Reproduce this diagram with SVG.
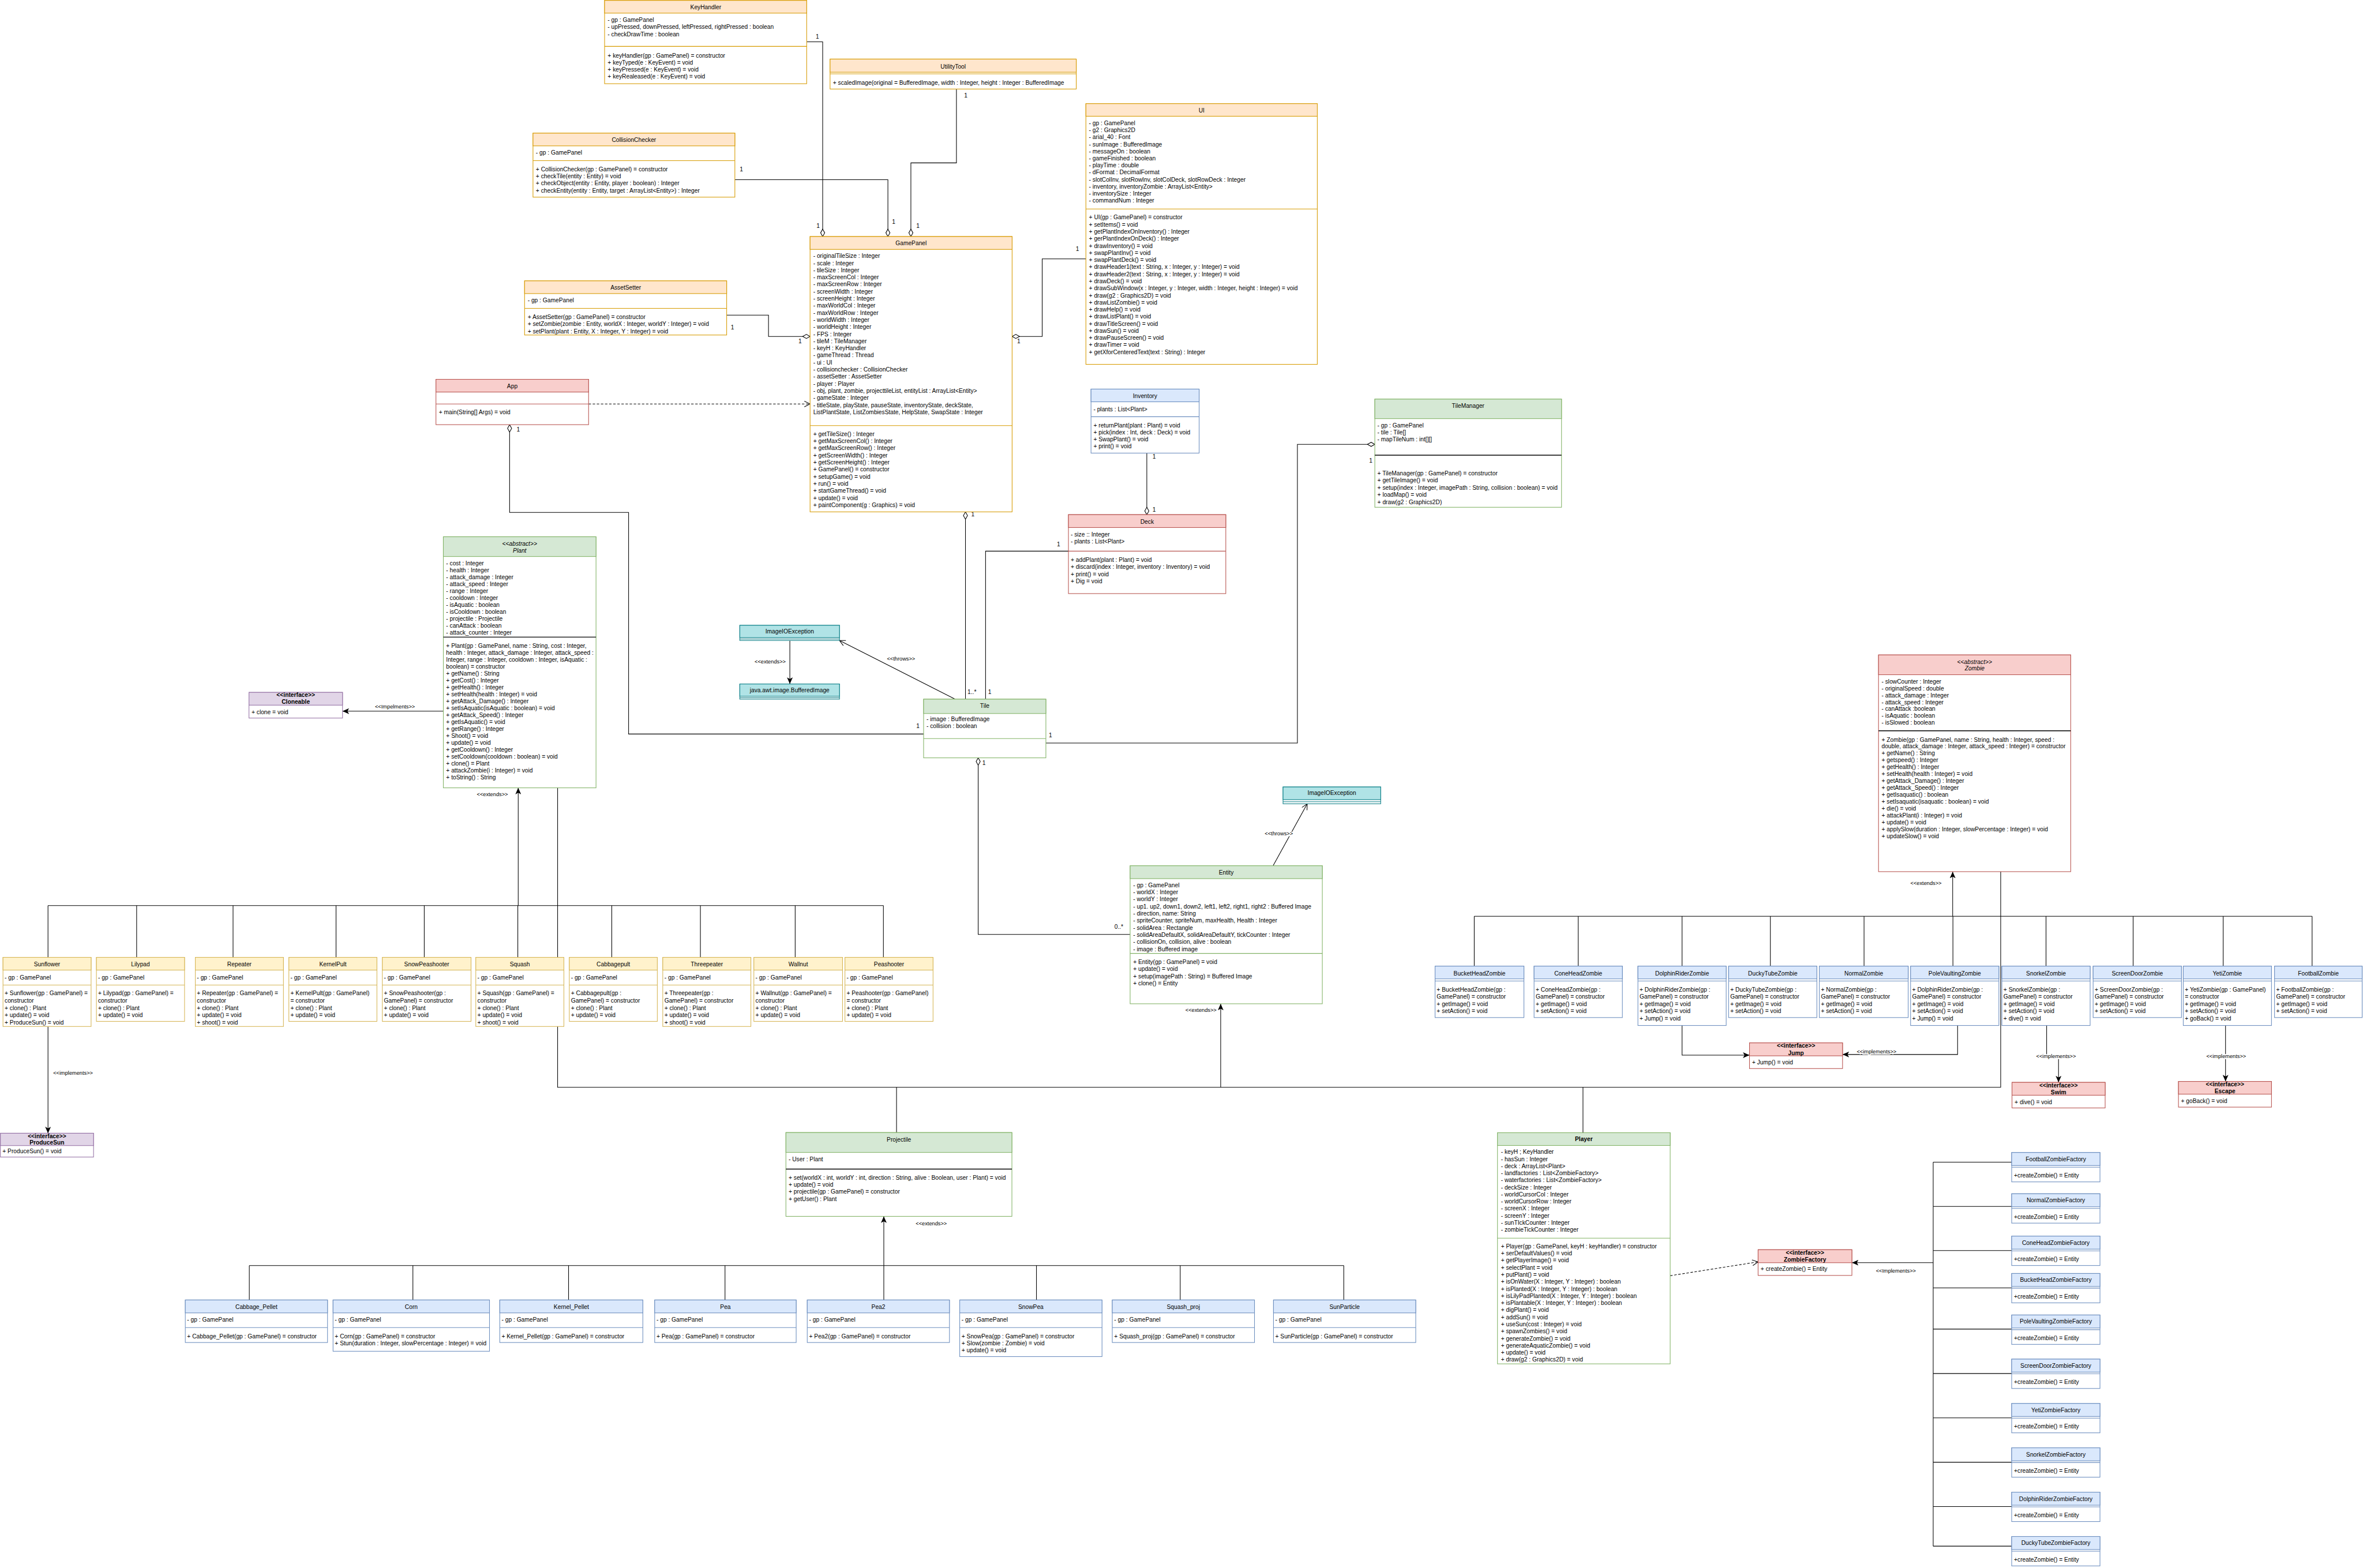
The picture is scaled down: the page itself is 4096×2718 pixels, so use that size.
<svg xmlns="http://www.w3.org/2000/svg" width="4096" height="2718" viewBox="0 0 4096 2718">
<defs>
<style>
text{font-family:"Liberation Sans",Arial,Helvetica,sans-serif;font-size:14.4px;fill:#000}
.c{text-anchor:middle}
.b{font-weight:bold}
.i{font-style:italic}
.lb{font-size:13px;paint-order:stroke;stroke:#fff;stroke-width:5px}
.ln path{fill:none;stroke:#000;stroke-width:1.5}
.ln path.dash{stroke-dasharray:6 4}
.bd{fill:#fff;stroke-width:1.5}
.hd{stroke-width:1.5}
.sp{stroke-width:1.5}
.or .bd,.or .hd,.or .sp{stroke:#d79b00}.or .hd{fill:#ffe6cc}
.ye .bd,.ye .hd,.ye .sp{stroke:#d6b656}.ye .hd{fill:#fff2cc}
.re .bd,.re .hd,.re .sp{stroke:#b85450}.re .hd{fill:#f8cecc}
.bl .bd,.bl .hd,.bl .sp{stroke:#6c8ebf}.bl .hd{fill:#dae8fc}
.gr .bd,.gr .hd,.gr .sp{stroke:#82b366}.gr .hd{fill:#d5e8d4}
.pu .bd,.pu .hd,.pu .sp{stroke:#9673a6}.pu .hd{fill:#e1d5e7}
.te .bd,.te .hd,.te .sp{stroke:#0e8088}.te .hd{fill:#b0e3e6}
g line.sp.k{stroke:#000;stroke-width:2}
</style>
<marker id="tri" markerUnits="userSpaceOnUse" markerWidth="18" markerHeight="14" refX="16" refY="7" orient="auto"><path d="M0,0 L16,7 L0,14 L4,7 z" fill="#000" stroke="none"/></marker>
<marker id="open" markerUnits="userSpaceOnUse" markerWidth="18" markerHeight="16" refX="15" refY="8" orient="auto"><path d="M1,1 L15,8 L1,15" fill="none" stroke="#000" stroke-width="1.5"/></marker>
<marker id="dia" markerUnits="userSpaceOnUse" markerWidth="22" markerHeight="14" refX="20" refY="7" orient="auto"><path d="M2,7 L11,2 L20,7 L11,12 z" fill="#fff" stroke="#000" stroke-width="1.5"/></marker>
</defs>
<rect width="4096" height="2718" fill="#fff"/>
<g transform="scale(0.71123)">

<g id="connectors" class="ln">
<path d="M1966,102 H2005 V576.5" marker-end="url(#dia)"/>
<path d="M1791,438 H2164 V576.5" marker-end="url(#dia)"/>
<path d="M2331,217 V397 H2220 V576.5" marker-end="url(#dia)"/>
<path d="M1771,768 H1873 V820 H1974.3" marker-end="url(#dia)"/>
<path d="M2646.5,631 H2540 V820 H2466.7" marker-end="url(#dia)"/>
<path class="dash" d="M1434.4,984.6 H1974.3" marker-end="url(#open)"/>
<path d="M2251,1789 H1532 V1249 H1242 V1035" marker-end="url(#dia)"/>
<path d="M2353,1704 V1247.5" marker-end="url(#dia)"/>
<path d="M2402,1704 V1343.3 H2604"/>
<path d="M2795,1104.3 V1254.3" marker-end="url(#dia)"/>
<path d="M2549,1811 H3162 V1083 H3350.7" marker-end="url(#dia)"/>
<path d="M2328,1704 L2046,1561" marker-end="url(#open)"/>
<path d="M1925,1561 V1667" marker-end="url(#tri)"/>
<path d="M3102.7,2110 L3186,1959" marker-end="url(#open)"/>
<path d="M2754.3,2277.5 H2384 V1847" marker-end="url(#dia)"/>
<path d="M1080.5,1733.2 H834.7" marker-end="url(#tri)"/>
<path d="M117,2207 H2153"/>
<path d="M117,2333.3 V2207 M333,2333.3 V2207 M568,2333.3 V2207 M819,2333.3 V2207 M1034,2333.3 V2207 M1262,2333.3 V2207 M1491,2333.3 V2207 M1707,2333.3 V2207 M1938,2333.3 V2207 M2153,2333.3 V2207"/>
<path d="M1263,2207 V1920" marker-end="url(#tri)"/>
<path d="M117,2501.7 V2762" marker-end="url(#tri)"/>
<path d="M1359,1920 V2650 H4876 V2124.4"/>
<path d="M2185,2650 V2760.3 M3858,2650 V2760.7"/>
<path d="M2975,2650 V2446.4" marker-end="url(#tri)"/>
<path d="M3593,2233 H5635"/>
<path d="M3593,2354.7 V2233 M3846.4,2354.7 V2233 M4099.5,2354.7 V2233 M4314.7,2354.7 V2233 M4543,2354.7 V2233 M4759.6,2354.7 V2233 M4986.5,2354.7 V2233 M5198.8,2354.7 V2233 M5418.3,2354.7 V2233 M5635,2354.7 V2233"/>
<path d="M4759,2233 V2124.4" marker-end="url(#tri)"/>
<path d="M4099.5,2499.3 V2571.7 H4263.8" marker-end="url(#tri)"/>
<path d="M4771,2499.3 V2570 H4490.6" marker-end="url(#tri)"/>
<path d="M4988,2499.3 V2574 H5017 V2638" marker-end="url(#tri)"/>
<path d="M5424,2499.3 V2635.7" marker-end="url(#tri)"/>
<path d="M607.6,3084.4 H3275"/>
<path d="M607.6,3168.3 V3084.4 M1006.3,3168.3 V3084.4 M1385.7,3168.3 V3084.4 M1767,3168.3 V3084.4 M2154,3168.3 V3084.4 M2526,3168.3 V3084.4 M2876.4,3168.3 V3084.4 M3275,3168.3 V3084.4"/>
<path d="M2154,3084.4 V2964.5" marker-end="url(#tri)"/>
<path class="dash" d="M4070.5,3109.2 L4284.8,3075.4" marker-end="url(#open)"/>
<path d="M4711.5,2832.3 V3768.3"/>
<path d="M4711.5,2832.3 H4902.8 M4711.5,2940.4 H4902.8 M4711.5,3047.9 H4902.8 M4711.5,3138.8 H4902.8 M4711.5,3239.3 H4902.8 M4711.5,3347.5 H4902.8 M4711.5,3455.6 H4902.8 M4711.5,3563.7 H4902.8 M4711.5,3671.9 H4902.8 M4711.5,3768.3 H4902.8"/>
<path d="M4711.5,3077.5 H4513.4" marker-end="url(#tri)"/>
</g>

<g id="connector-labels">
<text class="lb c" x="962.6" y="1727">&lt;&lt;Impelments&gt;&gt;</text>
<text class="lb c" x="1200" y="1940">&lt;&lt;extends&gt;&gt;</text>
<text class="lb c" x="178" y="2620">&lt;&lt;implements&gt;&gt;</text>
<text class="lb c" x="2927" y="2466">&lt;&lt;extends&gt;&gt;</text>
<text class="lb c" x="2196" y="1610">&lt;&lt;throws&gt;&gt;</text>
<text class="lb c" x="1877" y="1617">&lt;&lt;extends&gt;&gt;</text>
<text class="lb c" x="3116.7" y="2036">&lt;&lt;throws&gt;&gt;</text>
<text class="lb c" x="4694" y="2157">&lt;&lt;extends&gt;&gt;</text>
<text class="lb c" x="4573.5" y="2567">&lt;&lt;implements&gt;&gt;</text>
<text class="lb c" x="5011" y="2579">&lt;&lt;implements&gt;&gt;</text>
<text class="lb c" x="5425.6" y="2579">&lt;&lt;implements&gt;&gt;</text>
<text class="lb c" x="2269.7" y="2987">&lt;&lt;extends&gt;&gt;</text>
<text class="lb c" x="4620.6" y="3101">&lt;&lt;Implements&gt;&gt;</text>
<text x="1988" y="94">1</text>
<text x="1990" y="556">1</text>
<text x="1803" y="418">1</text>
<text x="2174" y="546">1</text>
<text x="2350" y="237">1</text>
<text x="2233" y="556">1</text>
<text x="1781" y="803">1</text>
<text x="1946" y="836">1</text>
<text x="2479" y="836">1</text>
<text x="2622" y="612">1</text>
<text x="1259" y="1052">1</text>
<text x="2233" y="1774">1</text>
<text x="2367" y="1258">1</text>
<text x="2358" y="1692">1..*</text>
<text x="2408" y="1692">1</text>
<text x="2576" y="1331">1</text>
<text x="2809" y="1118">1</text>
<text x="2809" y="1247">1</text>
<text x="2556" y="1797">1</text>
<text x="3337" y="1128">1</text>
<text x="2716" y="2264">0..*</text>
<text x="2394" y="1864">1</text>
</g>

<g id="KeyHandler" class="or">
<rect class="bd" x="1473.5" y="1" width="492.5" height="203"/>
<rect class="hd" x="1473.5" y="1" width="492.5" height="31"/>
<line class="sp" x1="1473.5" y1="113" x2="1966" y2="113"/>
<text class="c" x="1720" y="22">KeyHandler</text>
<text x="1481" y="54">- gp : GamePanel</text>
<text x="1481" y="71">- upPressed, downPressed, leftPressed, rightPressed : boolean</text>
<text x="1481" y="88">- checkDrawTime : boolean</text>
<text x="1481" y="140">+ keyHandler(gp : GamePanel) = constructor</text>
<text x="1481" y="157">+ keyTyped(e : KeyEvent) = void</text>
<text x="1481" y="174">+ keyPressed(e : KeyEvent) = void</text>
<text x="1481" y="191">+ keyRealeased(e : KeyEvent) = void</text>
</g>

<g id="UtilityTool" class="or">
<rect class="bd" x="2023" y="144" width="600" height="73"/>
<rect class="hd" x="2023" y="144" width="600" height="32"/>
<line class="sp" x1="2023" y1="180" x2="2623" y2="180"/>
<text class="c" x="2323" y="167">UtilityTool</text>
<text x="2030" y="207">+ scaledImage(original = BufferedImage, width : Integer, height : Integer : BufferedImage</text>
</g>

<g id="CollisionChecker" class="or">
<rect class="bd" x="1299" y="324.5" width="492" height="156"/>
<rect class="hd" x="1299" y="324.5" width="492" height="31"/>
<line class="sp" x1="1299" y1="391.5" x2="1791" y2="391.5"/>
<text class="c" x="1545" y="346">CollisionChecker</text>
<text x="1306" y="377">- gp : GamePanel</text>
<text x="1306" y="418">+ CollisionChecker(gp : GamePanel) = constructor</text>
<text x="1306" y="434">+ checkTile(entity : Entity) = void</text>
<text x="1306" y="452">+ checkObject(entity : Entity, player : boolean) : Integer</text>
<text x="1306" y="469">+ checkEntity(entity : Entity, target : ArrayList&lt;Entity&gt;) : Integer</text>
</g>

<g id="AssetSetter" class="or">
<rect class="bd" x="1278.5" y="684.5" width="492.5" height="132"/>
<rect class="hd" x="1278.5" y="684.5" width="492.5" height="31"/>
<line class="sp" x1="1278.5" y1="751.5" x2="1771" y2="751.5"/>
<text class="c" x="1525" y="706">AssetSetter</text>
<text x="1286" y="737">- gp : GamePanel</text>
<text x="1286" y="778">+ AssetSetter(gp : GamePanel) = constructor</text>
<text x="1286" y="794">+ setZombie(zombie : Entity, worldX : Integer, worldY : Integer) = void</text>
<text x="1286" y="812">+ setPlant(plant : Entity, X : Integer, Y : Integer) = void</text>
</g>

<g id="App" class="re">
<rect class="bd" x="1062.5" y="924.5" width="372" height="110.5"/>
<rect class="hd" x="1062.5" y="924.5" width="372" height="31"/>
<line class="sp" x1="1062.5" y1="984.6" x2="1434.5" y2="984.6"/>
<text class="c" x="1248.5" y="946.5">App</text>
<text x="1069.5" y="1010">+ main(String[] Args) = void</text>
</g>

<g id="GamePanel" class="or">
<rect class="bd" x="1974.3" y="576.5" width="492.4" height="671"/>
<rect class="hd" x="1974.3" y="576.5" width="492.4" height="31.3"/>
<line class="sp" x1="1974.3" y1="1037.2" x2="2466.7" y2="1037.2"/>
<text class="c" x="2220.5" y="598">GamePanel</text>
<text x="1982" y="628.8">- originalTileSize : Integer</text>
<text x="1982" y="646.1">- scale : Integer</text>
<text x="1982" y="663.4">- tileSize : Integer</text>
<text x="1982" y="680.7">- maxScreenCol : Integer</text>
<text x="1982" y="698">- maxScreenRow : Integer</text>
<text x="1982" y="715.3">- screenWidth : Integer</text>
<text x="1982" y="732.6">- screenHeight : Integer</text>
<text x="1982" y="749.9">- maxWorldCol : Integer</text>
<text x="1982" y="767.2">- maxWorldRow : Integer</text>
<text x="1982" y="784.5">- worldWidth : Integer</text>
<text x="1982" y="801.8">- worldHeight : Integer</text>
<text x="1982" y="819.1">- FPS : Integer</text>
<text x="1982" y="836.4">- tileM : TileManager</text>
<text x="1982" y="853.7">- keyH : KeyHandler</text>
<text x="1982" y="871">- gameThread : Thread</text>
<text x="1982" y="888.3">- ui : UI</text>
<text x="1982" y="905.6">- collisionchecker : CollisionChecker</text>
<text x="1982" y="922.9">- assetSetter : AssetSetter</text>
<text x="1982" y="940.2">- player : Player</text>
<text x="1982" y="957.5">- obj, plant, zombie, projecttileList, entityList : ArrayList&lt;Entity&gt;</text>
<text x="1982" y="974.8">- gameState : Integer</text>
<text x="1982" y="992.1">- titleState, playState, pauseState, inventoryState, deckState,</text>
<text x="1982" y="1009.4">ListPlantState, ListZombiesState, HelpState, SwapState : Integer</text>
<text x="1982" y="1062.8">+ getTileSize() : Integer</text>
<text x="1982" y="1080.1">+ getMaxScreenCol() : Integer</text>
<text x="1982" y="1097.4">+ getMaxScreenRow() : Integer</text>
<text x="1982" y="1114.7">+ getScreenWidth() : Integer</text>
<text x="1982" y="1132">+ getScreenHeight() : Integer</text>
<text x="1982" y="1149.3">+ GamePanel() = constructor</text>
<text x="1982" y="1166.6">+ setupGame() = void</text>
<text x="1982" y="1183.9">+ run() = void</text>
<text x="1982" y="1201.2">+ startGameThread() = void</text>
<text x="1982" y="1218.5">+ update() = void</text>
<text x="1982" y="1235.8">+ paintComponent(g : Graphics) = void</text>
</g>

<g id="UI" class="or">
<rect class="bd" x="2646.5" y="252.6" width="564" height="635.4"/>
<rect class="hd" x="2646.5" y="252.6" width="564" height="30.7"/>
<line class="sp" x1="2646.5" y1="509.4" x2="3210.5" y2="509.4"/>
<text class="c" x="2928.5" y="274">UI</text>
<text x="2654" y="305.2">- gp : GamePanel</text>
<text x="2654" y="322.3">- g2 : Graphics2D</text>
<text x="2654" y="339.5">- arial_40 : Font</text>
<text x="2654" y="356.6">- sunImage : BufferedImage</text>
<text x="2654" y="373.8">- messageOn : boolean</text>
<text x="2654" y="390.9">- gameFinished : boolean</text>
<text x="2654" y="408">- playTime : double</text>
<text x="2654" y="425.2">- dFormat : DecimalFormat</text>
<text x="2654" y="442.3">- slotColInv, slotRowInv, slotColDeck, slotRowDeck : Integer</text>
<text x="2654" y="459.5">- inventory, inventoryZombie : ArrayList&lt;Entity&gt;</text>
<text x="2654" y="476.6">- inventorySize : Integer</text>
<text x="2654" y="493.7">- commandNum : Integer</text>
<text x="2654" y="535">+ UI(gp : GamePanel) = constructor</text>
<text x="2654" y="552.3">+ setItems() = void</text>
<text x="2654" y="569.5">+ getPlantIndexOnInventory() : Integer</text>
<text x="2654" y="586.8">+ gerPlantIndexOnDeck() : Integer</text>
<text x="2654" y="604">+ drawInventory() = void</text>
<text x="2654" y="621.3">+ swapPlantInv() = void</text>
<text x="2654" y="638.6">+ swapPlantDeck() = void</text>
<text x="2654" y="655.8">+ drawHeader1(text : String, x : Integer, y : Integer) = void</text>
<text x="2654" y="673.1">+ drawHeader2(text : String, x : Integer, y : Integer) = void</text>
<text x="2654" y="690.3">+ drawDeck() = void</text>
<text x="2654" y="707.6">+ drawSubWindow(x : Integer, y : Integer, width : Integer, height : Integer) = void</text>
<text x="2654" y="724.9">+ draw(g2 : Graphics2D) = void</text>
<text x="2654" y="742.1">+ drawListZombie() = void</text>
<text x="2654" y="759.4">+ drawHelp() = void</text>
<text x="2654" y="776.6">+ drawListPlant() = void</text>
<text x="2654" y="793.9">+ drawTitleScreen() = void</text>
<text x="2654" y="811.2">+ drawSun() = void</text>
<text x="2654" y="828.4">+ drawPauseScreen() = void</text>
<text x="2654" y="845.7">+ drawTimer = void</text>
<text x="2654" y="862.9">+ getXforCenteredText(text : String) : Integer</text>
</g>

<g id="Inventory" class="bl">
<rect class="bd" x="2659" y="948.3" width="263.5" height="156"/>
<rect class="hd" x="2659" y="948.3" width="263.5" height="31"/>
<line class="sp" x1="2659" y1="1015.7" x2="2922.5" y2="1015.7"/>
<text class="c" x="2790.7" y="970">Inventory</text>
<text x="2665" y="1002">- plants : List&lt;Plant&gt;</text>
<text x="2665" y="1042">+ returnPlant(plant : Plant) = void</text>
<text x="2665" y="1059">+ pick(index : Int, deck : Deck)  = void</text>
<text x="2665" y="1076">+ SwapPlant() = void</text>
<text x="2665" y="1093">+ print() = void</text>
</g>

<g id="Deck" class="re">
<rect class="bd" x="2604" y="1254.3" width="383.5" height="192.4"/>
<rect class="hd" x="2604" y="1254.3" width="383.5" height="31.4"/>
<line class="sp" x1="2604" y1="1343.3" x2="2987.5" y2="1343.3"/>
<text class="c" x="2795.7" y="1276">Deck</text>
<text x="2609.5" y="1307">- size :: Integer</text>
<text x="2609.5" y="1324">- plants : List&lt;Plant&gt;</text>
<text x="2609.5" y="1369">+ addPlant(plant : Plant) = void</text>
<text x="2609.5" y="1386">+ discard(index : Integer, inventory : Inventory) = void</text>
<text x="2609.5" y="1404">+ print() = void</text>
<text x="2609.5" y="1421">+ Dig = void</text>
</g>

<g id="TileManager" class="gr">
<rect class="bd" x="3350.7" y="972.7" width="455" height="263.6"/>
<rect class="hd" x="3350.7" y="972.7" width="455" height="47.6"/>
<line class="sp k" x1="3350.7" y1="1109.3" x2="3805.7" y2="1109.3"/>
<text class="c" x="3578" y="994">TileManager</text>
<text x="3357" y="1042">- gp : GamePanel</text>
<text x="3357" y="1059">- tile : Tile[]</text>
<text x="3357" y="1076">- mapTileNum : int[][]</text>
<text x="3357" y="1159">+ TileManager(gp : GamePanel) = constructor</text>
<text x="3357" y="1176">+ getTileImage() = void</text>
<text x="3357" y="1194">+ setup(index : Integer, imagePath : String, collision : boolean) = void</text>
<text x="3357" y="1211">+ loadMap() = void</text>
<text x="3357" y="1229">+ draw(g2 : Graphics2D)</text>
</g>

<g id="Plant" class="gr">
<rect class="bd" x="1080.5" y="1308.2" width="372.1" height="611.9"/>
<rect class="hd" x="1080.5" y="1308.2" width="372.1" height="48.1"/>
<line class="sp k" x1="1080.5" y1="1552.8" x2="1452.6" y2="1552.8"/>
<text class="c i" x="1266.5" y="1330">&lt;&lt;abstract&gt;&gt;</text>
<text class="c i" x="1266.5" y="1347">Plant</text>
<text x="1087.3" y="1377.9">- cost : Integer</text>
<text x="1087.3" y="1394.7">- health : Integer</text>
<text x="1087.3" y="1411.6">- attack_damage : Integer</text>
<text x="1087.3" y="1428.4">- attack_speed : Integer</text>
<text x="1087.3" y="1445.2">- range : Integer</text>
<text x="1087.3" y="1462.1">- cooldown : Integer</text>
<text x="1087.3" y="1478.9">- isAquatic : boolean</text>
<text x="1087.3" y="1495.7">- isCooldown : boolean</text>
<text x="1087.3" y="1512.5">- projectile : Projectile</text>
<text x="1087.3" y="1529.4">- canAttack : boolean</text>
<text x="1087.3" y="1546.2">- attack_counter : Integer</text>
<text x="1087.3" y="1579.4">+ Plant(gp : GamePanel, name : String, cost : Integer,</text>
<text x="1087.3" y="1596.3">health : Integer, attack_damage : Integer, attack_speed :</text>
<text x="1087.3" y="1613.1">Integer, range : Integer, cooldown : Integer, isAquatic :</text>
<text x="1087.3" y="1630">boolean) = constructor</text>
<text x="1087.3" y="1646.8">+ getName() : String</text>
<text x="1087.3" y="1663.7">+ getCost() : Integer</text>
<text x="1087.3" y="1680.5">+ getHealth() : Integer</text>
<text x="1087.3" y="1697.4">+ setHealth(health : Integer) = void</text>
<text x="1087.3" y="1714.2">+ getAttack_Damage() : Integer</text>
<text x="1087.3" y="1731.1">+ setIsAquatic(isAquatic : boolean) = void</text>
<text x="1087.3" y="1747.9">+ getAttack_Speed() : Integer</text>
<text x="1087.3" y="1764.8">+ getIsAquatic() = void</text>
<text x="1087.3" y="1781.6">+ getRange() : Integer</text>
<text x="1087.3" y="1798.5">+ Shoot() = void</text>
<text x="1087.3" y="1815.3">+ update() = void</text>
<text x="1087.3" y="1832.2">+ getCooldown() : Integer</text>
<text x="1087.3" y="1849">+ setCooldown(cooldown : boolean) = void</text>
<text x="1087.3" y="1865.9">+ clone() = Plant</text>
<text x="1087.3" y="1882.7">+ attackZombie(i : Integer) = void</text>
<text x="1087.3" y="1899.6">+ toString() : String</text>
</g>

<g id="Cloneable" class="pu">
<rect class="bd" x="606.8" y="1687.5" width="228" height="62.6"/>
<rect class="hd" x="606.8" y="1687.5" width="228" height="31.1"/>
<text class="c b" x="720.8" y="1699">&lt;&lt;interface&gt;&gt;</text>
<text class="c b" x="720.8" y="1716">Cloneable</text>
<text x="613" y="1740">+ clone = void</text>
</g>

<g id="ImageIOException" class="te">
<rect class="bd" x="1803" y="1524" width="243" height="37"/>
<rect class="hd" x="1803" y="1524" width="243" height="30"/>
<line class="sp" x1="1803" y1="1557.5" x2="2046" y2="1557.5"/>
<text class="c" x="1924.5" y="1544">ImageIOException</text>
</g>

<g id="BufferedImage" class="te">
<rect class="bd" x="1803" y="1667" width="243" height="37"/>
<rect class="hd" x="1803" y="1667" width="243" height="30"/>
<line class="sp" x1="1803" y1="1700.5" x2="2046" y2="1700.5"/>
<text class="c" x="1924.5" y="1687">java.awt.image.BufferedImage</text>
</g>

<g id="ImageIOException2" class="te">
<rect class="bd" x="3127" y="1918" width="238" height="41"/>
<rect class="hd" x="3127" y="1918" width="238" height="31"/>
<line class="sp" x1="3127" y1="1954" x2="3365" y2="1954"/>
<text class="c" x="3246" y="1938">ImageIOException</text>
</g>

<g id="Tile" class="gr">
<rect class="bd" x="2251" y="1704" width="298" height="143"/>
<rect class="hd" x="2251" y="1704" width="298" height="35"/>
<line class="sp" x1="2251" y1="1800" x2="2549" y2="1800"/>
<text class="c" x="2400" y="1725">Tile</text>
<text x="2258" y="1757">- image : BufferedImage</text>
<text x="2258" y="1775">- collision : boolean</text>
</g>

<g id="Zombie" class="re">
<rect class="bd" x="4578.3" y="1596.2" width="468.4" height="528.2"/>
<rect class="hd" x="4578.3" y="1596.2" width="468.4" height="48.2"/>
<line class="sp k" x1="4578.3" y1="1781.1" x2="5046.7" y2="1781.1"/>
<text class="c i" x="4812.5" y="1618.5">&lt;&lt;abstract&gt;&gt;</text>
<text class="c i" x="4812.5" y="1634">Zombie</text>
<text x="4585.7" y="1666.3">- slowCounter : Integer</text>
<text x="4585.7" y="1682.9">- originalSpeed : double</text>
<text x="4585.7" y="1699.6">- attack_damage : Integer</text>
<text x="4585.7" y="1716.2">- attack_speed : Integer</text>
<text x="4585.7" y="1732.8">- canAttack :boolean</text>
<text x="4585.7" y="1749.5">- isAquatic : boolean</text>
<text x="4585.7" y="1766.1">- isSlowed : boolean</text>
<text x="4585.7" y="1807.5">+ Zombie(gp : GamePanel, name : String, health : Integer, speed :</text>
<text x="4585.7" y="1824.3">double, attack_damage : Integer, attack_speed : Integer) = constructor</text>
<text x="4585.7" y="1841">+ getName() : String</text>
<text x="4585.7" y="1857.8">+ getspeed() : Integer</text>
<text x="4585.7" y="1874.6">+ getHealth() : Integer</text>
<text x="4585.7" y="1891.4">+ setHealth(health : Integer) = void</text>
<text x="4585.7" y="1908.1">+ getAttack_Damage() : Integer</text>
<text x="4585.7" y="1924.9">+ getAttack_Speed() : Integer</text>
<text x="4585.7" y="1941.7">+ getIsaquatic() : boolean</text>
<text x="4585.7" y="1958.4">+ setIsaquatic(isaquatic : boolean) = void</text>
<text x="4585.7" y="1975.2">+ die() = void</text>
<text x="4585.7" y="1992">+ attackPlant(i : Integer) = void</text>
<text x="4585.7" y="2008.7">+ update() = void</text>
<text x="4585.7" y="2025.5">+ applySlow(duration : Integer, slowPercentage : Integer) = void</text>
<text x="4585.7" y="2042.3">+ updateSlow() = void</text>
</g>

<g id="Entity" class="gr">
<rect class="bd" x="2754.3" y="2110" width="468.4" height="336.4"/>
<rect class="hd" x="2754.3" y="2110" width="468.4" height="31.4"/>
<line class="sp" x1="2754.3" y1="2323.6" x2="3222.7" y2="2323.6"/>
<text class="c" x="2988.5" y="2131">Entity</text>
<text x="2761.7" y="2162.1">- gp : GamePanel</text>
<text x="2761.7" y="2179.5">- worldX : Integer</text>
<text x="2761.7" y="2196.8">- worldY : Integer</text>
<text x="2761.7" y="2214.2">- up1. up2, down1, down2, left1, left2, right1, right2 : Buffered Image</text>
<text x="2761.7" y="2231.5">- direction, name: String</text>
<text x="2761.7" y="2248.9">- spriteCounter, spriteNum, maxHealth, Health : Integer</text>
<text x="2761.7" y="2266.2">- solidArea : Rectangle</text>
<text x="2761.7" y="2283.6">- solidAreaDefaultX, solidAreaDefaultY, tickCounter : Integer</text>
<text x="2761.7" y="2300.9">- collisionOn, collision, alive : boolean</text>
<text x="2761.7" y="2318.3">- image : Buffered image</text>
<text x="2761.7" y="2350">+ Entity(gp : GamePanel) = void</text>
<text x="2761.7" y="2367">+ update() = void</text>
<text x="2761.7" y="2384">+ setup(imagePath : String) = Buffered Image</text>
<text x="2761.7" y="2401">+ clone() = Entity</text>
</g>

<g id="Sunflower" class="ye">
<rect class="bd" x="7.3" y="2333.3" width="214.7" height="168.4"/>
<rect class="hd" x="7.3" y="2333.3" width="214.7" height="31"/>
<line class="sp" x1="7.3" y1="2400.7" x2="222" y2="2400.7"/>
<text class="c" x="114.6" y="2354.5">Sunflower</text>
<text x="11.3" y="2387">- gp : GamePanel</text>
<text x="11.3" y="2425">+ Sunflower(gp : GamePanel) =</text>
<text x="11.3" y="2443">constructor</text>
<text x="11.3" y="2461.5">+ clone() : Plant</text>
<text x="11.3" y="2479">+ update() = void</text>
<text x="11.3" y="2497">+ ProduceSun() = void</text>
</g>
<g id="Lilypad" class="ye">
<rect class="bd" x="235" y="2333.3" width="214.8" height="156"/>
<rect class="hd" x="235" y="2333.3" width="214.8" height="31"/>
<line class="sp" x1="235" y1="2400.7" x2="449.8" y2="2400.7"/>
<text class="c" x="342.4" y="2354.5">Lilypad</text>
<text x="239" y="2387">- gp : GamePanel</text>
<text x="239" y="2425">+ Lilypad(gp : GamePanel) =</text>
<text x="239" y="2443">constructor</text>
<text x="239" y="2461.5">+ clone() : Plant</text>
<text x="239" y="2479">+ update() = void</text>
</g>
<g id="Repeater" class="ye">
<rect class="bd" x="476" y="2333.3" width="214.8" height="168.4"/>
<rect class="hd" x="476" y="2333.3" width="214.8" height="31"/>
<line class="sp" x1="476" y1="2400.7" x2="690.8" y2="2400.7"/>
<text class="c" x="583.4" y="2354.5">Repeater</text>
<text x="480" y="2387">- gp : GamePanel</text>
<text x="480" y="2425">+ Repeater(gp : GamePanel) =</text>
<text x="480" y="2443">constructor</text>
<text x="480" y="2461.5">+ clone() : Plant</text>
<text x="480" y="2479">+ update() = void</text>
<text x="480" y="2497">+ shoot() = void</text>
</g>
<g id="KernelPult" class="ye">
<rect class="bd" x="704" y="2333.3" width="214.6" height="156"/>
<rect class="hd" x="704" y="2333.3" width="214.6" height="31"/>
<line class="sp" x1="704" y1="2400.7" x2="918.6" y2="2400.7"/>
<text class="c" x="811.3" y="2354.5">KernelPult</text>
<text x="708" y="2387">- gp : GamePanel</text>
<text x="708" y="2425">+ KernelPult(gp : GamePanel)</text>
<text x="708" y="2443">= constructor</text>
<text x="708" y="2461.5">+ clone() : Plant</text>
<text x="708" y="2479">+ update() = void</text>
</g>
<g id="SnowPeashooter" class="ye">
<rect class="bd" x="931.8" y="2333.3" width="216.2" height="156"/>
<rect class="hd" x="931.8" y="2333.3" width="216.2" height="31"/>
<line class="sp" x1="931.8" y1="2400.7" x2="1148" y2="2400.7"/>
<text class="c" x="1039.9" y="2354.5">SnowPeashooter</text>
<text x="935.8" y="2387">- gp : GamePanel</text>
<text x="935.8" y="2425">+ SnowPeashooter(gp :</text>
<text x="935.8" y="2443">GamePanel) = constructor</text>
<text x="935.8" y="2461.5">+ clone() : Plant</text>
<text x="935.8" y="2479">+ update() = void</text>
</g>
<g id="Squash" class="ye">
<rect class="bd" x="1159.6" y="2333.3" width="214.7" height="168.4"/>
<rect class="hd" x="1159.6" y="2333.3" width="214.7" height="31"/>
<line class="sp" x1="1159.6" y1="2400.7" x2="1374.3" y2="2400.7"/>
<text class="c" x="1267" y="2354.5">Squash</text>
<text x="1163.6" y="2387">- gp : GamePanel</text>
<text x="1163.6" y="2425">+ Squash(gp : GamePanel) =</text>
<text x="1163.6" y="2443">constructor</text>
<text x="1163.6" y="2461.5">+ clone() : Plant</text>
<text x="1163.6" y="2479">+ update() = void</text>
<text x="1163.6" y="2497">+ shoot() = void</text>
</g>
<g id="Cabbagepult" class="ye">
<rect class="bd" x="1387.5" y="2333.3" width="214.5" height="156"/>
<rect class="hd" x="1387.5" y="2333.3" width="214.5" height="31"/>
<line class="sp" x1="1387.5" y1="2400.7" x2="1602" y2="2400.7"/>
<text class="c" x="1494.8" y="2354.5">Cabbagepult</text>
<text x="1391.5" y="2387">- gp : GamePanel</text>
<text x="1391.5" y="2425">+ Cabbagepult(gp :</text>
<text x="1391.5" y="2443">GamePanel) = constructor</text>
<text x="1391.5" y="2461.5">+ clone() : Plant</text>
<text x="1391.5" y="2479">+ update() = void</text>
</g>
<g id="Threepeater" class="ye">
<rect class="bd" x="1615.3" y="2333.3" width="214.7" height="168.4"/>
<rect class="hd" x="1615.3" y="2333.3" width="214.7" height="31"/>
<line class="sp" x1="1615.3" y1="2400.7" x2="1830" y2="2400.7"/>
<text class="c" x="1722.7" y="2354.5">Threepeater</text>
<text x="1619.3" y="2387">- gp : GamePanel</text>
<text x="1619.3" y="2425">+ Threepeater(gp :</text>
<text x="1619.3" y="2443">GamePanel) = constructor</text>
<text x="1619.3" y="2461.5">+ clone() : Plant</text>
<text x="1619.3" y="2479">+ update() = void</text>
<text x="1619.3" y="2497">+ shoot() = void</text>
</g>
<g id="Wallnut" class="ye">
<rect class="bd" x="1837.3" y="2333.3" width="216.1" height="156"/>
<rect class="hd" x="1837.3" y="2333.3" width="216.1" height="31"/>
<line class="sp" x1="1837.3" y1="2400.7" x2="2053.4" y2="2400.7"/>
<text class="c" x="1945.4" y="2354.5">Wallnut</text>
<text x="1841.3" y="2387">- gp : GamePanel</text>
<text x="1841.3" y="2425">+ Wallnut(gp : GamePanel) =</text>
<text x="1841.3" y="2443">constructor</text>
<text x="1841.3" y="2461.5">+ clone() : Plant</text>
<text x="1841.3" y="2479">+ update() = void</text>
</g>
<g id="Peashooter" class="ye">
<rect class="bd" x="2059.3" y="2333.3" width="214.7" height="156"/>
<rect class="hd" x="2059.3" y="2333.3" width="214.7" height="31"/>
<line class="sp" x1="2059.3" y1="2400.7" x2="2274" y2="2400.7"/>
<text class="c" x="2166.7" y="2354.5">Peashooter</text>
<text x="2063.3" y="2387">- gp : GamePanel</text>
<text x="2063.3" y="2425">+ Peashooter(gp : GamePanel)</text>
<text x="2063.3" y="2443">= constructor</text>
<text x="2063.3" y="2461.5">+ clone() : Plant</text>
<text x="2063.3" y="2479">+ update() = void</text>
</g>

<g id="ProduceSun" class="pu">
<rect class="bd" x="1" y="2762" width="227" height="58"/>
<rect class="hd" x="1" y="2762" width="227" height="30"/>
<text class="c b" x="114.5" y="2774">&lt;&lt;interface&gt;&gt;</text>
<text class="c b" x="114.5" y="2789">ProduceSun</text>
<text x="6" y="2811">+ ProduceSun() = void</text>
</g>

<g id="BucketHeadZombie" class="bl">
<rect class="bd" x="3497.5" y="2354.7" width="216.6" height="125.3"/>
<rect class="hd" x="3497.5" y="2354.7" width="216.6" height="31"/>
<line class="sp" x1="3497.5" y1="2391" x2="3714.1" y2="2391"/>
<text class="c" x="3605.8" y="2377">BucketHeadZombie</text>
<text x="3501.5" y="2417">+ BucketHeadZombie(gp :</text>
<text x="3501.5" y="2434.5">GamePanel) = constructor</text>
<text x="3501.5" y="2452.5">+ getImage() = void</text>
<text x="3501.5" y="2468.5">+ setAction() = void</text>
</g>
<g id="ConeHeadZombie" class="bl">
<rect class="bd" x="3738.8" y="2354.7" width="215.2" height="125.3"/>
<rect class="hd" x="3738.8" y="2354.7" width="215.2" height="31"/>
<line class="sp" x1="3738.8" y1="2391" x2="3954" y2="2391"/>
<text class="c" x="3846.4" y="2377">ConeHeadZombie</text>
<text x="3742.8" y="2417">+ ConeHeadZombie(gp :</text>
<text x="3742.8" y="2434.5">GamePanel) = constructor</text>
<text x="3742.8" y="2452.5">+ getImage() = void</text>
<text x="3742.8" y="2468.5">+ setAction() = void</text>
</g>
<g id="DolphinRiderZombie" class="bl">
<rect class="bd" x="3991.9" y="2354.7" width="215.1" height="144.6"/>
<rect class="hd" x="3991.9" y="2354.7" width="215.1" height="31"/>
<line class="sp" x1="3991.9" y1="2391" x2="4207" y2="2391"/>
<text class="c" x="4099.5" y="2377">DolphinRiderZombie</text>
<text x="3995.9" y="2417">+ DolphinRiderZombie(gp :</text>
<text x="3995.9" y="2434.5">GamePanel) = constructor</text>
<text x="3995.9" y="2452.5">+ getImage() = void</text>
<text x="3995.9" y="2468.5">+ setAction() = void</text>
<text x="3995.9" y="2487">+ Jump() = void</text>
</g>
<g id="DuckyTubeZombie" class="bl">
<rect class="bd" x="4212.9" y="2354.7" width="215.1" height="125.3"/>
<rect class="hd" x="4212.9" y="2354.7" width="215.1" height="31"/>
<line class="sp" x1="4212.9" y1="2391" x2="4428" y2="2391"/>
<text class="c" x="4320.5" y="2377">DuckyTubeZombie</text>
<text x="4216.9" y="2417">+ DuckyTubeZombie(gp :</text>
<text x="4216.9" y="2434.5">GamePanel) = constructor</text>
<text x="4216.9" y="2452.5">+ getImage() = void</text>
<text x="4216.9" y="2468.5">+ setAction() = void</text>
</g>
<g id="NormalZombie" class="bl">
<rect class="bd" x="4434" y="2354.7" width="216.6" height="125.3"/>
<rect class="hd" x="4434" y="2354.7" width="216.6" height="31"/>
<line class="sp" x1="4434" y1="2391" x2="4650.6" y2="2391"/>
<text class="c" x="4542.3" y="2377">NormalZombie</text>
<text x="4438" y="2417">+ NormalZombie(gp :</text>
<text x="4438" y="2434.5">GamePanel) = constructor</text>
<text x="4438" y="2452.5">+ getImage() = void</text>
<text x="4438" y="2468.5">+ setAction() = void</text>
</g>
<g id="PoleVaultingZombie" class="bl">
<rect class="bd" x="4656.4" y="2354.7" width="215.2" height="144.6"/>
<rect class="hd" x="4656.4" y="2354.7" width="215.2" height="31"/>
<line class="sp" x1="4656.4" y1="2391" x2="4871.6" y2="2391"/>
<text class="c" x="4764" y="2377">PoleVaultingZombie</text>
<text x="4660.4" y="2417">+ DolphinRiderZombie(gp :</text>
<text x="4660.4" y="2434.5">GamePanel) = constructor</text>
<text x="4660.4" y="2452.5">+ getImage() = void</text>
<text x="4660.4" y="2468.5">+ setAction() = void</text>
<text x="4660.4" y="2487">+ Jump() = void</text>
</g>
<g id="SnorkelZombie" class="bl">
<rect class="bd" x="4878.9" y="2354.7" width="215.1" height="144.6"/>
<rect class="hd" x="4878.9" y="2354.7" width="215.1" height="31"/>
<line class="sp" x1="4878.9" y1="2391" x2="5094" y2="2391"/>
<text class="c" x="4986.5" y="2377">SnorkelZombie</text>
<text x="4882.9" y="2417">+ SnorkelZombie(gp :</text>
<text x="4882.9" y="2434.5">GamePanel) = constructor</text>
<text x="4882.9" y="2452.5">+ getImage() = void</text>
<text x="4882.9" y="2468.5">+ setAction() = void</text>
<text x="4882.9" y="2487">+ dive() = void</text>
</g>
<g id="ScreenDoorZombie" class="bl">
<rect class="bd" x="5101.3" y="2354.7" width="215.3" height="125.3"/>
<rect class="hd" x="5101.3" y="2354.7" width="215.3" height="31"/>
<line class="sp" x1="5101.3" y1="2391" x2="5316.6" y2="2391"/>
<text class="c" x="5209" y="2377">ScreenDoorZombie</text>
<text x="5105.3" y="2417">+ ScreenDoorZombie(gp :</text>
<text x="5105.3" y="2434.5">GamePanel) = constructor</text>
<text x="5105.3" y="2452.5">+ getImage() = void</text>
<text x="5105.3" y="2468.5">+ setAction() = void</text>
</g>
<g id="YetiZombie" class="bl">
<rect class="bd" x="5321" y="2354.7" width="215" height="144.6"/>
<rect class="hd" x="5321" y="2354.7" width="215" height="31"/>
<line class="sp" x1="5321" y1="2391" x2="5536" y2="2391"/>
<text class="c" x="5428.5" y="2377">YetiZombie</text>
<text x="5325" y="2417">+ YetiZombie(gp : GamePanel)</text>
<text x="5325" y="2434.5">= constructor</text>
<text x="5325" y="2452.5">+ getImage() = void</text>
<text x="5325" y="2468.5">+ setAction() = void</text>
<text x="5325" y="2487">+ goBack() = void</text>
</g>
<g id="FootballZombie" class="bl">
<rect class="bd" x="5543.4" y="2354.7" width="213.6" height="125.3"/>
<rect class="hd" x="5543.4" y="2354.7" width="213.6" height="31"/>
<line class="sp" x1="5543.4" y1="2391" x2="5757" y2="2391"/>
<text class="c" x="5650.2" y="2377">FootballZombie</text>
<text x="5547.4" y="2417">+ FootballZombie(gp :</text>
<text x="5547.4" y="2434.5">GamePanel) = constructor</text>
<text x="5547.4" y="2452.5">+ getImage() = void</text>
<text x="5547.4" y="2468.5">+ setAction() = void</text>
</g>

<g id="Jump" class="re">
<rect class="bd" x="4263.8" y="2541.7" width="226.8" height="62.6"/>
<rect class="hd" x="4263.8" y="2541.7" width="226.8" height="31.6"/>
<text class="c b" x="4377.2" y="2554">&lt;&lt;interface&gt;&gt;</text>
<text class="c b" x="4377.2" y="2571">Jump</text>
<text x="4270" y="2594">+ Jump() = void</text>
</g>
<g id="Swim" class="re">
<rect class="bd" x="4903.6" y="2638" width="227" height="62.3"/>
<rect class="hd" x="4903.6" y="2638" width="227" height="31.3"/>
<text class="c b" x="5017" y="2650">&lt;&lt;interface&gt;&gt;</text>
<text class="c b" x="5017" y="2667">Swim</text>
<text x="4910" y="2691">+ dive() = void</text>
</g>
<g id="Escape" class="re">
<rect class="bd" x="5309.3" y="2635.7" width="226.7" height="62.6"/>
<rect class="hd" x="5309.3" y="2635.7" width="226.7" height="31"/>
<text class="c b" x="5422.6" y="2647.5">&lt;&lt;interface&gt;&gt;</text>
<text class="c b" x="5422.6" y="2664.5">Escape</text>
<text x="5315.5" y="2688">+ goBack() = void</text>
</g>

<g id="Projectile" class="gr">
<rect class="bd" x="1915.4" y="2760.3" width="550.8" height="204.2"/>
<rect class="hd" x="1915.4" y="2760.3" width="550.8" height="48.4"/>
<line class="sp k" x1="1915.4" y1="2849.4" x2="2466.2" y2="2849.4"/>
<text class="c" x="2190.8" y="2782">Projectile</text>
<text x="1922" y="2831">- User : Plant</text>
<text x="1922" y="2875.5">+ set(worldX : int, worldY : int, direction : String, alive : Boolean, user : Plant) = void</text>
<text x="1922" y="2892.3">+ update() = void</text>
<text x="1922" y="2909.2">+ projectile(gp : GamePanel) = constructor</text>
<text x="1922" y="2926.7">+ getUser() : Plant</text>
</g>

<g id="Cabbage_Pellet" class="bl">
<rect class="bd" x="451.6" y="3168.3" width="346.6" height="103.7"/>
<rect class="hd" x="451.6" y="3168.3" width="346.6" height="31.5"/>
<line class="sp" x1="451.6" y1="3235.6" x2="798.2" y2="3235.6"/>
<text class="c" x="624.9" y="3190.5">Cabbage_Pellet</text>
<text x="456" y="3221">- gp : GamePanel</text>
<text x="456" y="3262">+ Cabbage_Pellet(gp : GamePanel) = constructor</text>
</g>
<g id="Corn" class="bl">
<rect class="bd" x="811.7" y="3168.3" width="381.3" height="125"/>
<rect class="hd" x="811.7" y="3168.3" width="381.3" height="31.5"/>
<line class="sp" x1="811.7" y1="3235.6" x2="1193" y2="3235.6"/>
<text class="c" x="1002.4" y="3190.5">Corn</text>
<text x="816" y="3221">- gp : GamePanel</text>
<text x="816" y="3262">+ Corn(gp : GamePanel) = constructor</text>
<text x="816" y="3279">+ Stun(duration : Integer, slowPercentage : Integer) = void</text>
</g>
<g id="Kernel_Pellet" class="bl">
<rect class="bd" x="1218" y="3168.3" width="348.7" height="103.7"/>
<rect class="hd" x="1218" y="3168.3" width="348.7" height="31.5"/>
<line class="sp" x1="1218" y1="3235.6" x2="1566.7" y2="3235.6"/>
<text class="c" x="1392.4" y="3190.5">Kernel_Pellet</text>
<text x="1222.5" y="3221">- gp : GamePanel</text>
<text x="1222.5" y="3262">+ Kernel_Pellet(gp : GamePanel) = constructor</text>
</g>
<g id="Pea" class="bl">
<rect class="bd" x="1595.6" y="3168.3" width="344.8" height="103.7"/>
<rect class="hd" x="1595.6" y="3168.3" width="344.8" height="31.5"/>
<line class="sp" x1="1595.6" y1="3235.6" x2="1940.4" y2="3235.6"/>
<text class="c" x="1768" y="3190.5">Pea</text>
<text x="1600" y="3221">- gp : GamePanel</text>
<text x="1600" y="3262">+ Pea(gp : GamePanel) = constructor</text>
</g>
<g id="Pea2" class="bl">
<rect class="bd" x="1967.4" y="3168.3" width="346.6" height="103.7"/>
<rect class="hd" x="1967.4" y="3168.3" width="346.6" height="31.5"/>
<line class="sp" x1="1967.4" y1="3235.6" x2="2314" y2="3235.6"/>
<text class="c" x="2140.7" y="3190.5">Pea2</text>
<text x="1972" y="3221">- gp : GamePanel</text>
<text x="1972" y="3262">+ Pea2(gp : GamePanel) = constructor</text>
</g>
<g id="SnowPea" class="bl">
<rect class="bd" x="2339" y="3168.3" width="346.8" height="138"/>
<rect class="hd" x="2339" y="3168.3" width="346.8" height="31.5"/>
<line class="sp" x1="2339" y1="3235.6" x2="2685.8" y2="3235.6"/>
<text class="c" x="2512.4" y="3190.5">SnowPea</text>
<text x="2343.5" y="3221">- gp : GamePanel</text>
<text x="2343.5" y="3262">+ SnowPea(gp : GamePanel) = constructor</text>
<text x="2343.5" y="3279">+ Slow(zombie : Zombie) = void</text>
<text x="2343.5" y="3296">+ update() = void</text>
</g>
<g id="Squash_proj" class="bl">
<rect class="bd" x="2710.8" y="3168.3" width="346.6" height="103.7"/>
<rect class="hd" x="2710.8" y="3168.3" width="346.6" height="31.5"/>
<line class="sp" x1="2710.8" y1="3235.6" x2="3057.4" y2="3235.6"/>
<text class="c" x="2884.1" y="3190.5">Squash_proj</text>
<text x="2715.5" y="3221">- gp : GamePanel</text>
<text x="2715.5" y="3262">+ Squash_proj(gp : GamePanel) = constructor</text>
</g>
<g id="SunParticle" class="bl">
<rect class="bd" x="3103.7" y="3168.3" width="346.7" height="103.7"/>
<rect class="hd" x="3103.7" y="3168.3" width="346.7" height="31.5"/>
<line class="sp" x1="3103.7" y1="3235.6" x2="3450.4" y2="3235.6"/>
<text class="c" x="3277" y="3190.5">SunParticle</text>
<text x="3108" y="3221">- gp : GamePanel</text>
<text x="3108" y="3262">+ SunParticle(gp : GamePanel) = constructor</text>
</g>

<g id="Player" class="gr">
<rect class="bd" x="3649.6" y="2760.7" width="420.9" height="563.3"/>
<rect class="hd" x="3649.6" y="2760.7" width="420.9" height="31"/>
<line class="sp" x1="3649.6" y1="3017.6" x2="4070.5" y2="3017.6"/>
<text class="c b" x="3860" y="2781.5">Player</text>
<text x="3658" y="2812.5">- keyH ; KeyHandler</text>
<text x="3658" y="2829.7">- hasSun : Integer</text>
<text x="3658" y="2846.9">- deck : ArrayList&lt;Plant&gt;</text>
<text x="3658" y="2864.2">- landfactories : List&lt;ZombieFactory&gt;</text>
<text x="3658" y="2881.4">- waterfactories : List&lt;ZombieFactory&gt;</text>
<text x="3658" y="2898.6">- deckSize : Integer</text>
<text x="3658" y="2915.8">- worldCursorCol : Integer</text>
<text x="3658" y="2933">- worldCursorRow : Integer</text>
<text x="3658" y="2950.3">- screenX : Integer</text>
<text x="3658" y="2967.5">- screenY : Integer</text>
<text x="3658" y="2984.7">- sunTIckCounter : Integer</text>
<text x="3658" y="3001.9">- zombieTickCounter : Integer</text>
<text x="3658" y="3042.5">+ Player(gp : GamePanel, keyH : keyHandler) = constructor</text>
<text x="3658" y="3059.8">+ serDefaultValues() = void</text>
<text x="3658" y="3077">+ getPlayerImage() = void</text>
<text x="3658" y="3094.3">+ selectPlant = void</text>
<text x="3658" y="3111.5">+ putPlant() = void</text>
<text x="3658" y="3128.8">+ isOnWater(X : Integer, Y : Integer) : boolean</text>
<text x="3658" y="3146.1">+ isPlanted(X : Integer, Y : Integer) : boolean</text>
<text x="3658" y="3163.3">+ isLilyPadPlanted(X : Integer, Y : Integer) : boolean</text>
<text x="3658" y="3180.6">+ isPlantable(X : Integer, Y : Integer) : boolean</text>
<text x="3658" y="3197.8">+ digPlant() = void</text>
<text x="3658" y="3215.1">+ addSun() = void</text>
<text x="3658" y="3232.4">+ useSun(cost : Integer) = void</text>
<text x="3658" y="3249.6">+ spawnZombies() = void</text>
<text x="3658" y="3266.9">+ generateZombie() = void</text>
<text x="3658" y="3284.1">+ generateAquaticZombie() = void</text>
<text x="3658" y="3301.4">+ update() = void</text>
<text x="3658" y="3318.7">+ draw(g2 : Graphics2D) = void</text>
</g>

<g id="ZombieFactory" class="re">
<rect class="bd" x="4284.8" y="3045.8" width="228.6" height="62.7"/>
<rect class="hd" x="4284.8" y="3045.8" width="228.6" height="31.7"/>
<text class="c b" x="4399" y="3058.5">&lt;&lt;interface&gt;&gt;</text>
<text class="c b" x="4399" y="3075.5">ZombieFactory</text>
<text x="4291" y="3098">+ createZombie() = Entity</text>
</g>

<g id="FootballZombieFactory" class="bl">
<rect class="bd" x="4902.8" y="2808.9" width="215.2" height="71.6"/>
<rect class="hd" x="4902.8" y="2808.9" width="215.2" height="31.7"/>
<line class="sp" x1="4902.8" y1="2844.7" x2="5118" y2="2844.7"/>
<text class="c" x="5010.4" y="2829.9">FootballZombieFactory</text>
<text x="4908.5" y="2869.9">+createZombie() = Entity</text>
</g>
<g id="NormalZombieFactory" class="bl">
<rect class="bd" x="4902.8" y="2909.4" width="215.2" height="71.6"/>
<rect class="hd" x="4902.8" y="2909.4" width="215.2" height="31.7"/>
<line class="sp" x1="4902.8" y1="2945.2" x2="5118" y2="2945.2"/>
<text class="c" x="5010.4" y="2930.4">NormalZombieFactory</text>
<text x="4908.5" y="2970.4">+createZombie() = Entity</text>
</g>
<g id="ConeHeadZombieFactory" class="bl">
<rect class="bd" x="4902.8" y="3012.7" width="215.2" height="71.6"/>
<rect class="hd" x="4902.8" y="3012.7" width="215.2" height="31.7"/>
<line class="sp" x1="4902.8" y1="3048.5" x2="5118" y2="3048.5"/>
<text class="c" x="5010.4" y="3033.7">ConeHeadZombieFactory</text>
<text x="4908.5" y="3073.7">+createZombie() = Entity</text>
</g>
<g id="BucketHeadZombieFactory" class="bl">
<rect class="bd" x="4902.8" y="3103.7" width="215.2" height="71.6"/>
<rect class="hd" x="4902.8" y="3103.7" width="215.2" height="31.7"/>
<line class="sp" x1="4902.8" y1="3139.5" x2="5118" y2="3139.5"/>
<text class="c" x="5010.4" y="3124.7">BucketHeadZombieFactory</text>
<text x="4908.5" y="3164.7">+createZombie() = Entity</text>
</g>
<g id="PoleVaultingZombieFactory" class="bl">
<rect class="bd" x="4902.8" y="3204.9" width="215.2" height="71.6"/>
<rect class="hd" x="4902.8" y="3204.9" width="215.2" height="31.7"/>
<line class="sp" x1="4902.8" y1="3240.7" x2="5118" y2="3240.7"/>
<text class="c" x="5010.4" y="3225.9">PoleVaultingZombieFactory</text>
<text x="4908.5" y="3265.9">+createZombie() = Entity</text>
</g>
<g id="ScreenDoorZombieFactory" class="bl">
<rect class="bd" x="4902.8" y="3312.4" width="215.2" height="71.6"/>
<rect class="hd" x="4902.8" y="3312.4" width="215.2" height="31.7"/>
<line class="sp" x1="4902.8" y1="3348.2" x2="5118" y2="3348.2"/>
<text class="c" x="5010.4" y="3333.4">ScreenDoorZombieFactory</text>
<text x="4908.5" y="3373.4">+createZombie() = Entity</text>
</g>
<g id="YetiZombieFactory" class="bl">
<rect class="bd" x="4902.8" y="3420.5" width="215.2" height="71.6"/>
<rect class="hd" x="4902.8" y="3420.5" width="215.2" height="31.7"/>
<line class="sp" x1="4902.8" y1="3456.3" x2="5118" y2="3456.3"/>
<text class="c" x="5010.4" y="3441.5">YetiZombieFactory</text>
<text x="4908.5" y="3481.5">+createZombie() = Entity</text>
</g>
<g id="SnorkelZombieFactory" class="bl">
<rect class="bd" x="4902.8" y="3528.6" width="215.2" height="71.6"/>
<rect class="hd" x="4902.8" y="3528.6" width="215.2" height="31.7"/>
<line class="sp" x1="4902.8" y1="3564.4" x2="5118" y2="3564.4"/>
<text class="c" x="5010.4" y="3549.6">SnorkelZombieFactory</text>
<text x="4908.5" y="3589.6">+createZombie() = Entity</text>
</g>
<g id="DolphinRiderZombieFactory" class="bl">
<rect class="bd" x="4902.8" y="3636.8" width="215.2" height="71.6"/>
<rect class="hd" x="4902.8" y="3636.8" width="215.2" height="31.7"/>
<line class="sp" x1="4902.8" y1="3672.6" x2="5118" y2="3672.6"/>
<text class="c" x="5010.4" y="3657.8">DolphinRiderZombieFactory</text>
<text x="4908.5" y="3697.8">+createZombie() = Entity</text>
</g>
<g id="DuckyTubeZombieFactory" class="bl">
<rect class="bd" x="4902.8" y="3744.9" width="215.2" height="71.6"/>
<rect class="hd" x="4902.8" y="3744.9" width="215.2" height="31.7"/>
<line class="sp" x1="4902.8" y1="3780.7" x2="5118" y2="3780.7"/>
<text class="c" x="5010.4" y="3765.9">DuckyTubeZombieFactory</text>
<text x="4908.5" y="3805.9">+createZombie() = Entity</text>
</g>

</g>
</svg>
